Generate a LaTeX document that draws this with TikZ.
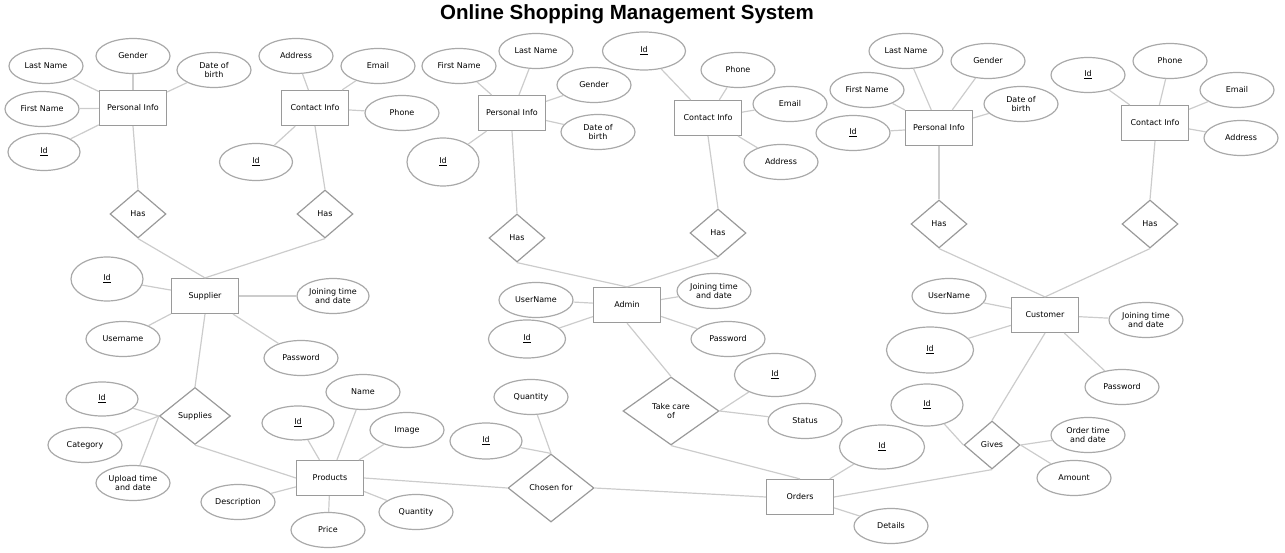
\documentclass[tikz,border=0pt]{standalone}
\usepackage{fontspec}
\setmainfont{DejaVu Sans}
\newfontfamily\titlefont{Liberation Sans}
\usetikzlibrary{shapes.geometric}
\definecolor{shapeline}{HTML}{9A9A9A}
\definecolor{linkline}{HTML}{CCCCCC}
\tikzstyle{entity}=[
	rectangle,
	draw=shapeline,
	line width=1.2pt,
	minimum width=67pt,
	minimum height=35pt,
	font=\fontsize{8}{9}\selectfont
]
\tikzstyle{attribute}=[
	ellipse,
	draw=shapeline!85,
	line width=1.2pt,
	inner sep=0pt,
	minimum width=74pt,
	minimum height=35pt,
	align=center,
	font=\fontsize{8}{9.5}\selectfont
]
\tikzstyle{relation}=[
	diamond,
	draw=shapeline,
	line width=1.2pt,
	inner sep=0pt,
	minimum width=56pt,
	minimum height=48pt,
	align=center,
	font=\fontsize{8}{9.5}\selectfont
]
\tikzstyle{link}=[
	draw=linkline,
	line width=1.2pt
]

\begin{document}
\begin{tikzpicture}[x=1pt,y=-1pt]
\useasboundingbox (0,0) rectangle (1285,553);
\node (Title) at (627,14) {\titlefont\bfseries\fontsize{20.5}{22}\selectfont Online Shopping Management System};

% supplier side
\node [entity] (SupPersonal) at (133,108) {Personal Info};
\node [entity] (SupContact) at (315,108) {Contact Info};
\node [entity] (Supplier) at (205,296) {Supplier};
\node [entity] (Products) at (330,478) {Products};
\node [relation] (SupHasPersonal) at (138,214) {Has};
\node [relation] (SupHasContact) at (325,214) {Has};
\node [relation, minimum width=71pt, minimum height=57pt] (Supplies) at (195,416) {Supplies};
\draw [link] (SupPersonal.south) -- (SupHasPersonal.north);
\draw [link] (SupContact.south) -- (SupHasContact.north);
\draw [link] (SupHasPersonal.south) -- (Supplier.north);
\draw [link] (SupHasContact.south) -- (Supplier.north);
\draw [link] (Supplier.south) -- (Supplies.north);
\draw [link] (Supplies.south) -- (Products.west);
\node [attribute] (SupLastName) at (46,66) {Last Name}
	edge [link] (SupPersonal);
\node [attribute] (SupGender) at (133,56) {Gender}
	edge [link] (SupPersonal);
\node [attribute] (SupBirth) at (214,70) {Date of\\birth}
	edge [link] (SupPersonal);
\node [attribute] (SupFirstName) at (42,109) {First Name}
	edge [link] (SupPersonal);
\node [attribute, minimum width=72pt, minimum height=37pt] (SupPersonalId) at (44,152) {\underline{Id}}
	edge [link] (SupPersonal);
\node [attribute] (SupAddress) at (296,56) {Address}
	edge [link] (SupContact);
\node [attribute] (SupEmail) at (378,66) {Email}
	edge [link] (SupContact);
\node [attribute] (SupPhone) at (402,113) {Phone}
	edge [link] (SupContact);
\node [attribute, minimum width=73pt, minimum height=37pt] (SupContactId) at (256,162) {\underline{Id}}
	edge [link] (SupContact);
\node [attribute, minimum width=72pt, minimum height=44pt] (SupplierId) at (107,279) {\underline{Id}}
	edge [link] (Supplier);
\node [attribute] (SupplierUsername) at (123,339) {Username}
	edge [link] (Supplier);
\node [attribute, minimum width=72pt] (SupplierJoined) at (333,296) {Joining time\\and date}
	edge [link] (Supplier);
\node [attribute] (SupplierPassword) at (301,358) {Password}
	edge [link] (Supplier);
\node [attribute, minimum width=72pt, minimum height=34pt] (SuppliesId) at (102,399) {\underline{Id}}
	edge [link] (Supplies.west);
\node [attribute] (SuppliesCategory) at (85,445) {Category}
	edge [link] (Supplies.west);
\node [attribute] (SuppliesUpload) at (133,483) {Upload time\\and date}
	edge [link] (Supplies.west);
\node [attribute, minimum width=72pt, minimum height=34pt] (ProductId) at (298,423) {\underline{Id}}
	edge [link] (Products);
\node [attribute] (ProductName) at (363,392) {Name}
	edge [link] (Products);
\node [attribute] (ProductImage) at (407,430) {Image}
	edge [link] (Products);
\node [attribute] (ProductDescription) at (238,502) {Description}
	edge [link] (Products);
\node [attribute] (ProductPrice) at (328,530) {Price}
	edge [link] (Products);
\node [attribute] (ProductQuantity) at (416,512) {Quantity}
	edge [link] (Products);

% admin side
\node [entity] (AdmPersonal) at (512,113) {Personal Info};
\node [entity] (AdmContact) at (708,118) {Contact Info};
\node [entity] (Admin) at (627,305) {Admin};
\node [entity] (Orders) at (800,497) {Orders};
\node [relation] (AdmHasPersonal) at (517,238) {Has};
\node [relation] (AdmHasContact) at (718,233) {Has};
\node [relation, minimum width=96pt, minimum height=68pt] (TakeCare) at (671,411) {Take care\\of};
\node [relation, minimum width=86pt, minimum height=68pt] (ChosenFor) at (551,488) {Chosen for};
\draw [link] (AdmPersonal.south) -- (AdmHasPersonal.north);
\draw [link] (AdmContact.south) -- (AdmHasContact.north);
\draw [link] (AdmHasPersonal.south) -- (Admin.north);
\draw [link] (AdmHasContact.south) -- (Admin.north);
\draw [link] (Admin.south) -- (TakeCare.north);
\draw [link] (TakeCare.south) -- (Orders.north);
\draw [link] (Products.east) -- (ChosenFor.west);
\draw [link] (ChosenFor.east) -- (Orders.west);
\node [attribute] (AdmFirstName) at (459,66) {First Name}
	edge [link] (AdmPersonal);
\node [attribute] (AdmLastName) at (536,51) {Last Name}
	edge [link] (AdmPersonal);
\node [attribute] (AdmGender) at (594,85) {Gender}
	edge [link] (AdmPersonal);
\node [attribute] (AdmBirth) at (598,132) {Date of\\birth}
	edge [link] (AdmPersonal);
\node [attribute, minimum width=72pt, minimum height=48pt] (AdmPersonalId) at (443,162) {\underline{Id}}
	edge [link] (AdmPersonal);
\node [attribute, minimum width=83pt, minimum height=38pt] (AdmContactId) at (644,51) {\underline{Id}}
	edge [link] (AdmContact);
\node [attribute] (AdmPhone) at (738,70) {Phone}
	edge [link] (AdmContact);
\node [attribute] (AdmEmail) at (790,104) {Email}
	edge [link] (AdmContact);
\node [attribute] (AdmAddress) at (781,162) {Address}
	edge [link] (AdmContact);
\node [attribute] (AdminUserName) at (536,300) {UserName}
	edge [link] (Admin);
\node [attribute, minimum width=77pt, minimum height=38pt] (AdminId) at (527,339) {\underline{Id}}
	edge [link] (Admin);
\node [attribute] (AdminJoined) at (714,291) {Joining time\\and date}
	edge [link] (Admin);
\node [attribute] (AdminPassword) at (728,339) {Password}
	edge [link] (Admin);
\node [attribute, minimum width=81pt, minimum height=43pt] (TakeCareId) at (775,375) {\underline{Id}}
	edge [link] (TakeCare.east);
\node [attribute] (TakeCareStatus) at (805,421) {Status}
	edge [link] (TakeCare.east);
\node [attribute] (ChosenQuantity) at (531,397) {Quantity}
	edge [link] (ChosenFor.north);
\node [attribute, minimum width=72pt, minimum height=36pt] (ChosenId) at (486,441) {\underline{Id}}
	edge [link] (ChosenFor.north);

% customer side
\node [entity] (CusPersonal) at (939,128) {Personal Info};
\node [entity] (CusContact) at (1155,123) {Contact Info};
\node [entity] (Customer) at (1045,315) {Customer};
\node [relation] (CusHasPersonal) at (939,224) {Has};
\node [relation] (CusHasContact) at (1150,224) {Has};
\node [relation] (Gives) at (992,445) {Gives};
\draw [link] (CusPersonal.south) -- (CusHasPersonal.north);
\draw [link] (CusContact.south) -- (CusHasContact.north);
\draw [link] (CusHasPersonal.south) -- (Customer.north);
\draw [link] (CusHasContact.south) -- (Customer.north);
\draw [link] (Customer.south) -- (Gives.north);
\draw [link] (Gives.south) -- (Orders.east);
\node [attribute] (CusLastName) at (906,51) {Last Name}
	edge [link] (CusPersonal);
\node [attribute] (CusGender) at (988,61) {Gender}
	edge [link] (CusPersonal);
\node [attribute] (CusFirstName) at (867,90) {First Name}
	edge [link] (CusPersonal);
\node [attribute] (CusBirth) at (1021,104) {Date of\\birth}
	edge [link] (CusPersonal);
\node [attribute] (CusPersonalId) at (853,133) {\underline{Id}}
	edge [link] (CusPersonal);
\node [attribute] (CusContactId) at (1088,75) {\underline{Id}}
	edge [link] (CusContact);
\node [attribute] (CusPhone) at (1170,61) {Phone}
	edge [link] (CusContact);
\node [attribute] (CusEmail) at (1237,90) {Email}
	edge [link] (CusContact);
\node [attribute] (CusAddress) at (1241,138) {Address}
	edge [link] (CusContact);
\node [attribute] (CustomerUserName) at (949,296) {UserName}
	edge [link] (Customer);
\node [attribute, minimum width=87pt, minimum height=46pt] (CustomerId) at (930,350) {\underline{Id}}
	edge [link] (Customer);
\node [attribute] (CustomerJoined) at (1146,320) {Joining time\\and date}
	edge [link] (Customer);
\node [attribute] (CustomerPassword) at (1122,387) {Password}
	edge [link] (Customer);
\node [attribute, minimum width=72pt, minimum height=42pt] (GivesId) at (927,405) {\underline{Id}}
	edge [link] (Gives.west);
\node [attribute] (GivesTime) at (1088,435) {Order time\\and date}
	edge [link] (Gives.east);
\node [attribute] (GivesAmount) at (1074,478) {Amount}
	edge [link] (Gives.east);
\node [attribute, minimum width=85pt, minimum height=44pt] (OrderId) at (882,447) {\underline{Id}}
	edge [link] (Orders);
\node [attribute] (OrderDetails) at (891,526) {Details}
	edge [link] (Orders);
\end{tikzpicture}
\end{document}
